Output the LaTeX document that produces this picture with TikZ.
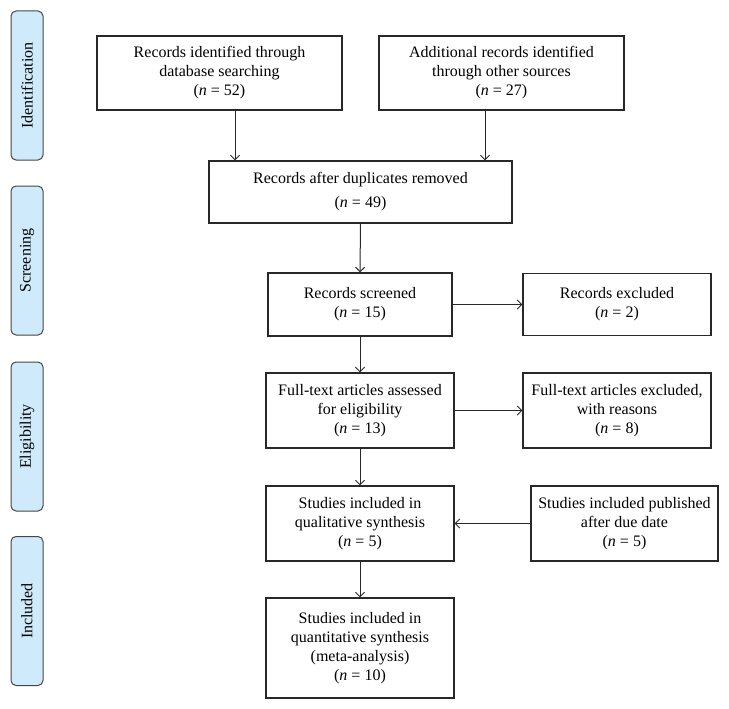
\documentclass[tikz,border=0pt]{standalone}
\usepackage{fontspec}
\setmainfont{Liberation Serif}
\usetikzlibrary{arrows.meta}
\definecolor{phasefill}{RGB}{207,234,251}
\definecolor{phaseline}{RGB}{70,70,70}
\definecolor{linec}{RGB}{40,40,40}
\begin{document}
\begin{tikzpicture}[x=1pt,y=-1pt,
  box/.style={draw=linec, line width=1.1pt, fill=white, align=center, inner sep=2pt,
    font=\fontsize{16}{19}\selectfont},
  phase/.style={draw=phaseline, line width=1pt, fill=phasefill, rounded corners=5pt,
    minimum width=149pt, minimum height=32pt, rotate=90, inner sep=0pt,
    font=\fontsize{16}{19}\selectfont},
  arr/.style={draw=linec, line width=1pt, -{Straight Barb[length=4.5pt,width=9pt]}}]
\useasboundingbox[fill=white] (0,0) rectangle (729,709);

% phase labels
\node[phase] (p1) at (27,85.5) {Identification};
\node[phase] (p2) at (27,260.5) {Screening};
\node[phase] (p3) at (27,436.5) {Eligibility};
\node[phase] (p4) at (27,611) {Included};

% boxes
\node[box, minimum width=245pt, minimum height=74pt] (db) at (219.5,73)
  {Records identified through\\database searching\\(\textit{n} = 52)};
\node[box, minimum width=245pt, minimum height=74pt] (other) at (501.5,73)
  {Additional records identified\\through other sources\\(\textit{n} = 27)};
\node[box, minimum width=303pt, minimum height=62pt] (dup) at (360.5,192)
  {Records after duplicates removed\\[5pt](\textit{n} = 49)};
\node[box, minimum width=184pt, minimum height=63pt] (screened) at (360,304.5)
  {Records screened\\(\textit{n} = 15)};
\node[box, minimum width=188pt, minimum height=62pt] (excluded) at (617,304.5)
  {Records excluded\\(\textit{n} = 2)};
\node[box, minimum width=188pt, minimum height=75pt] (fulltext) at (360,410.5)
  {Full-text articles assessed\\for eligibility\\(\textit{n} = 13)};
\node[box, minimum width=188pt, minimum height=75pt] (ftexcl) at (617,410.5)
  {Full-text articles excluded,\\with reasons\\(\textit{n} = 8)};
\node[box, minimum width=188pt, minimum height=75pt] (qual) at (360,523.5)
  {Studies included in\\qualitative synthesis\\(\textit{n} = 5)};
\node[box, minimum width=187pt, minimum height=75pt] (after) at (624.5,523.5)
  {Studies included published\\after due date\\(\textit{n} = 5)};
\node[box, minimum width=188pt, minimum height=100pt] (quant) at (360,648)
  {Studies included in\\quantitative synthesis\\(meta-analysis)\\(\textit{n} = 10)};

% connectors
\coordinate (xa) at (235,0);
\coordinate (xb) at (485,0);
\draw[arr] (db.south -| xa) -- (dup.north -| xa);
\draw[arr] (other.south -| xb) -- (dup.north -| xb);
\draw[arr] (dup.south) -- (screened.north);
\draw[arr] (screened.east) -- (excluded.west);
\draw[arr] (screened.south) -- (fulltext.north);
\draw[arr] (fulltext.east) -- (ftexcl.west);
\draw[arr] (fulltext.south) -- (qual.north);
\draw[arr] (after.west) -- (qual.east);
\draw[arr] (qual.south) -- (quant.north);
\end{tikzpicture}
\end{document}
